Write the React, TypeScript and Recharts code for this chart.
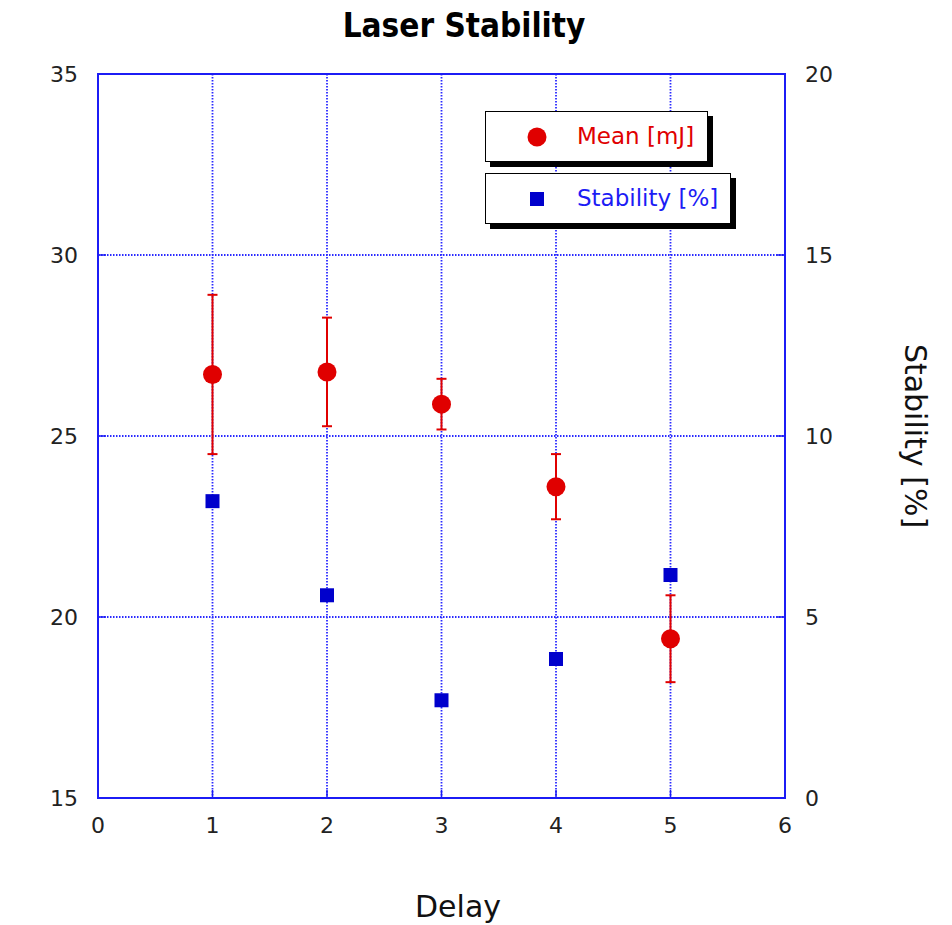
import React from "react";
import { ScatterChart, Scatter, XAxis, YAxis, CartesianGrid, ErrorBar, ReferenceArea } from "recharts";

const delays = [1, 2, 3, 4, 5];
const meanValues = [26.7, 26.77, 25.88, 23.6, 19.4];
const meanErrors = [2.2, 1.5, 0.7, 0.9, 1.2];
const stabilityValues = [8.2, 5.6, 2.7, 3.84, 6.16];

const xTicks = [0, 1, 2, 3, 4, 5, 6];
const leftTicks = [15, 20, 25, 30, 35];
const rightTicks = [0, 5, 10, 15, 20];

const BLUE = "#1c1cf5";
const GRID = "#2a2aff";
const RED = "#e00000";
const SQUARE = "#0000cc";
const FONT = "'DejaVu Sans', sans-serif";

const meanData = delays.map((d, i) => ({ x: d, y: meanValues[i], err: meanErrors[i] }));
const stabilityData = delays.map((d, i) => ({ x: d, y: stabilityValues[i] }));

const TICK_LEN = 8;

const XTick = (props: any) => {
  const { x, y, payload } = props;
  return (
    <g>
      <line x1={x} x2={x} y1={y - 19} y2={y - 19 - TICK_LEN} stroke={BLUE} strokeWidth={1.5} />
      <text x={x} y={y} dy="0.72em" textAnchor="middle" fontFamily={FONT} fontSize={22} fill="#222">
        {payload.value}
      </text>
    </g>
  );
};

const LeftTick = (props: any) => {
  const { x, y, payload } = props;
  return (
    <g>
      <line x1={x + 20} x2={x + 20 + TICK_LEN} y1={y} y2={y} stroke={BLUE} strokeWidth={1.5} />
      <text x={x} y={y} dy="0.36em" textAnchor="end" fontFamily={FONT} fontSize={22} fill="#222">
        {payload.value}
      </text>
    </g>
  );
};

const RightTick = (props: any) => {
  const { x, y, payload } = props;
  return (
    <g>
      <line x1={x - 20} x2={x - 20 - TICK_LEN} y1={y} y2={y} stroke={BLUE} strokeWidth={1.5} />
      <text x={x} y={y} dy="0.36em" textAnchor="start" fontFamily={FONT} fontSize={22} fill="#222">
        {payload.value}
      </text>
    </g>
  );
};

const MeanDot = (props: any) => <circle cx={props.cx} cy={props.cy} r={9.5} fill={RED} />;
const StabilitySquare = (props: any) => (
  <rect x={props.cx - 7} y={props.cy - 7} width={14} height={14} fill={SQUARE} />
);

const legendBox: React.CSSProperties = {
  position: "absolute",
  left: 485,
  background: "#fff",
  border: "1.5px solid #000",
  boxShadow: "5px 5px 0 #000",
  boxSizing: "border-box",
  fontFamily: FONT,
  fontSize: 23,
};

export default function App() {
  return (
    <div style={{ position: "absolute", left: 0, top: 0, width: 952, height: 925, background: "#fff" }}>
      <ScatterChart width={952} height={925} margin={{ top: 74, left: 38, right: 107, bottom: 77 }}>
        <CartesianGrid
          yAxisId="left"
          stroke={GRID}
          strokeDasharray="1.5 1.5"
          strokeWidth={1.8}
        />
        <XAxis
          type="number"
          dataKey="x"
          domain={[0, 6]}
          ticks={xTicks}
          height={50}
          axisLine={false}
          tickLine={false}
          tickSize={0}
          tickMargin={19}
          tick={<XTick />}
          interval={0}
        />
        <YAxis
          yAxisId="left"
          type="number"
          dataKey="y"
          domain={[15, 35]}
          ticks={leftTicks}
          width={60}
          axisLine={false}
          tickLine={false}
          tickSize={0}
          tickMargin={20}
          tick={<LeftTick />}
          interval={0}
        />
        <YAxis
          yAxisId="right"
          orientation="right"
          type="number"
          dataKey="y"
          domain={[0, 20]}
          ticks={rightTicks}
          width={60}
          axisLine={false}
          tickLine={false}
          tickSize={0}
          tickMargin={20}
          tick={<RightTick />}
          interval={0}
        />
        <ReferenceArea
          yAxisId="left"
          x1={0}
          x2={6}
          y1={15}
          y2={35}
          fill="none"
          fillOpacity={0}
          stroke={BLUE}
          strokeWidth={2}
        />
        <Scatter
          name="Stability [%]"
          data={stabilityData}
          yAxisId="right"
          shape={<StabilitySquare />}
          isAnimationActive={false}
        />
        <Scatter
          name="Mean [mJ]"
          data={meanData}
          yAxisId="left"
          shape={<MeanDot />}
          isAnimationActive={false}
        >
          <ErrorBar dataKey="err" direction="y" width={5} stroke={RED} strokeWidth={2} isAnimationActive={false} />
        </Scatter>
      </ScatterChart>

      <svg width={952} height={925} style={{ position: "absolute", left: 0, top: 0, pointerEvents: "none" }}>
        <text x={464} y={37} textAnchor="middle" fontFamily="'DejaVu Sans Condensed', 'DejaVu Sans', sans-serif" fontWeight="bold" fontSize={33} fill="#000">
          Laser Stability
        </text>
        <text x={458} y={917} textAnchor="middle" fontFamily={FONT} fontSize={30} fill="#111">
          Delay
        </text>
        <text x={905} y={436} textAnchor="middle" fontFamily={FONT} fontSize={30} fill="#111" transform="rotate(90 905 436)">
          Stability [%]
        </text>
      </svg>

      <div style={{ ...legendBox, top: 111, width: 223, height: 51 }}>
        <svg width={30} height={30} style={{ position: "absolute", left: 36, top: 10 }}>
          <circle cx={15} cy={15} r={9.5} fill={RED} />
        </svg>
        <span style={{ position: "absolute", left: 91, top: 10, color: RED, lineHeight: "28px" }}>Mean [mJ]</span>
      </div>
      <div style={{ ...legendBox, top: 173, width: 246, height: 51 }}>
        <svg width={30} height={30} style={{ position: "absolute", left: 36, top: 10 }}>
          <rect x={8} y={8} width={14} height={14} fill={SQUARE} />
        </svg>
        <span style={{ position: "absolute", left: 91, top: 10, color: BLUE, lineHeight: "28px" }}>Stability [%]</span>
      </div>
    </div>
  );
}
